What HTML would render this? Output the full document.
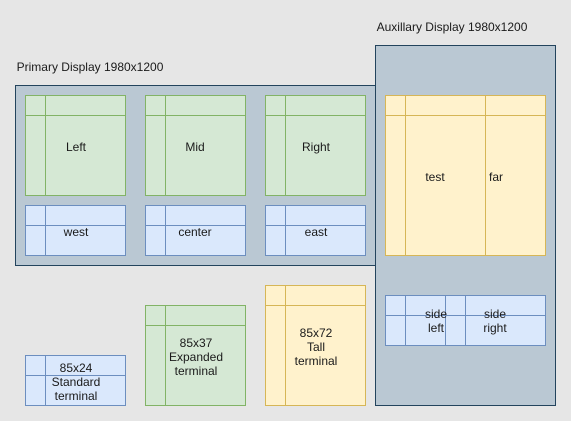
<!DOCTYPE html>
<html><head><style>
body{margin:0;width:571px;height:421px;background:#e6e6e6;position:relative;overflow:hidden;font-family:"Liberation Sans",sans-serif;font-size:12px;color:#1a1a1a}
.t{position:absolute;text-align:center;line-height:14px;transform:translate(-50%,-50%);white-space:nowrap}
</style></head><body>
<svg width="571" height="421" style="position:absolute;left:0;top:0">
<g stroke-width="1">
<rect x="15.5" y="85.5" width="360" height="180" fill="#bac8d3" stroke="#23445d"/>
<rect x="375.5" y="45.5" width="180" height="360" fill="#bac8d3" stroke="#23445d"/>
<g fill="#d5e8d4" stroke="#82b366">
<rect x="25.5" y="95.5" width="100" height="100"/><path d="M25.5 115.5H125.5M45.5 95.5V195.5"/>
<rect x="145.5" y="95.5" width="100" height="100"/><path d="M145.5 115.5H245.5M165.5 95.5V195.5"/>
<rect x="265.5" y="95.5" width="100" height="100"/><path d="M265.5 115.5H365.5M285.5 95.5V195.5"/>
<rect x="145.5" y="305.5" width="100" height="100"/><path d="M145.5 325.5H245.5M165.5 305.5V405.5"/>
</g>
<g fill="#dae8fc" stroke="#6c8ebf">
<rect x="25.5" y="205.5" width="100" height="50"/><path d="M25.5 225.5H125.5M45.5 205.5V255.5"/>
<rect x="145.5" y="205.5" width="100" height="50"/><path d="M145.5 225.5H245.5M165.5 205.5V255.5"/>
<rect x="265.5" y="205.5" width="100" height="50"/><path d="M265.5 225.5H365.5M285.5 205.5V255.5"/>
<rect x="385.5" y="295.5" width="160" height="50"/><path d="M385.5 315.5H545.5M405.5 295.5V345.5M445.5 295.5V345.5M465.5 295.5V345.5"/>
<rect x="25.5" y="355.5" width="100" height="50"/><path d="M25.5 375.5H125.5M45.5 355.5V405.5"/>
</g>
<g fill="#fff2cc" stroke="#d6b656">
<rect x="385.5" y="95.5" width="160" height="160"/><path d="M385.5 115.5H545.5M405.5 95.5V255.5M485.5 95.5V255.5"/>
<rect x="265.5" y="285.5" width="100" height="120"/><path d="M265.5 305.5H365.5M285.5 285.5V405.5"/>
</g>
</g>
</svg>
<div class="t" style="left:90px;top:67px">Primary Display 1980x1200</div>
<div class="t" style="left:452px;top:27px">Auxillary Display 1980x1200</div>
<div class="t" style="left:76px;top:147px">Left</div>
<div class="t" style="left:195px;top:147px">Mid</div>
<div class="t" style="left:316px;top:147px">Right</div>
<div class="t" style="left:76px;top:232px">west</div>
<div class="t" style="left:195px;top:232px">center</div>
<div class="t" style="left:316px;top:232px">east</div>
<div class="t" style="left:435px;top:177px">test</div>
<div class="t" style="left:496px;top:177px">far</div>
<div class="t" style="left:436px;top:321px">side<br>left</div>
<div class="t" style="left:495px;top:321px">side<br>right</div>
<div class="t" style="left:76px;top:382px">85x24<br>Standard<br>terminal</div>
<div class="t" style="left:196px;top:357px">85x37<br>Expanded<br>terminal</div>
<div class="t" style="left:316px;top:347px">85x72<br>Tall<br>terminal</div>
</body></html>
